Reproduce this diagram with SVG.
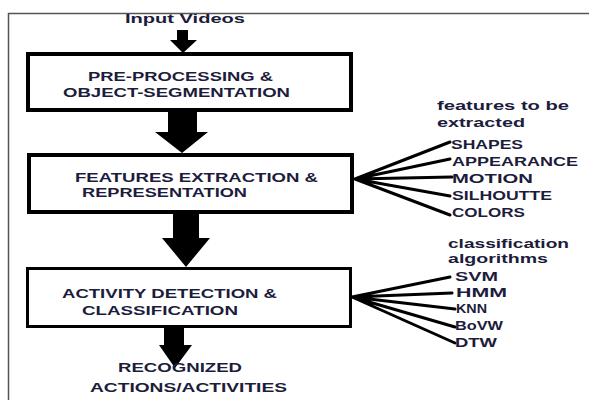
<svg xmlns="http://www.w3.org/2000/svg" width="589" height="400" viewBox="0 0 589 400">
<style>
.t{font-family:"Liberation Sans","Open Sans",sans-serif;font-weight:bold;font-size:13px;fill:#1c1c3c}
.s{font-size:12.5px}
.box{fill:#fff;stroke:#000;stroke-width:4}
.ln{stroke:#000;stroke-width:3;fill:none;stroke-linecap:round}
.arr{fill:#000}
</style>
<rect width="589" height="400" fill="#fff"/>
<path d="M8.5,400 V13.5 H589" fill="none" stroke="#555" stroke-width="1.5"/>
<g id="input">
<text class="t" x="125" y="23" textLength="120" lengthAdjust="spacingAndGlyphs">Input Videos</text>
</g>
<g id="connectors">
<polygon class="arr" points="177,30 188,30 188,40 197,40 183,53 170,40 177,40"/>
<polygon class="arr" points="168,111 197,111 197,132 208,132 182,153 155,132 168,132"/>
<polygon class="arr" points="173,214 199,214 199,238 210,238 186,267 162,238 173,238"/>
<polygon class="arr" points="164,328 184,328 184,345 192,345 175,368 159,345 164,345"/>
<path class="ln" d="M355,179 L450,142 M355,179 L450,159 M355,179 L452,177 M355,179 L450,196 M355,179 L450,215"/>
<path class="ln" d="M352,297 L450,277 M352,297 L452,293 M352,297 L455,309 M352,297 L455,327 M352,297 L455,343"/>
</g>
<g id="box1">
<rect class="box" x="28" y="54" width="323" height="56"/>
<text class="t" x="88" y="81" textLength="185" lengthAdjust="spacingAndGlyphs">PRE-PROCESSING &amp;</text>
<text class="t" x="63" y="97" textLength="227" lengthAdjust="spacingAndGlyphs">OBJECT-SEGMENTATION</text>
</g>
<g id="box2">
<rect class="box" x="29" y="155" width="323" height="57"/>
<text class="t" x="75" y="182" textLength="243" lengthAdjust="spacingAndGlyphs">FEATURES EXTRACTION &amp;</text>
<text class="t" x="82" y="197" textLength="165" lengthAdjust="spacingAndGlyphs">REPRESENTATION</text>
</g>
<g id="box3">
<rect class="box" x="27.5" y="268.5" width="323" height="58" style="stroke-width:3"/>
<text class="t" x="62" y="298" textLength="215" lengthAdjust="spacingAndGlyphs">ACTIVITY DETECTION &amp;</text>
<text class="t" x="82" y="315" textLength="156" lengthAdjust="spacingAndGlyphs">CLASSIFICATION</text>
</g>
<g id="output">
<text class="t" x="118" y="372" textLength="124" lengthAdjust="spacingAndGlyphs">RECOGNIZED</text>
<text class="t" x="90" y="392" textLength="197" lengthAdjust="spacingAndGlyphs">ACTIONS/ACTIVITIES</text>
</g>
<g id="features">
<text class="t" x="437" y="110" textLength="132" lengthAdjust="spacingAndGlyphs">features to be</text>
<text class="t" x="437" y="127" textLength="88" lengthAdjust="spacingAndGlyphs">extracted</text>
<text class="t" x="451" y="149" textLength="72" lengthAdjust="spacingAndGlyphs">SHAPES</text>
<text class="t" x="452" y="166" textLength="126" lengthAdjust="spacingAndGlyphs">APPEARANCE</text>
<text class="t" x="452" y="183" textLength="81" lengthAdjust="spacingAndGlyphs">MOTION</text>
<text class="t" x="452" y="200" textLength="100" lengthAdjust="spacingAndGlyphs">SILHOUTTE</text>
<text class="t" x="452" y="217" textLength="73" lengthAdjust="spacingAndGlyphs">COLORS</text>
</g>
<g id="classifiers">
<text class="t s" x="448" y="248" textLength="121" lengthAdjust="spacingAndGlyphs">classification</text>
<text class="t s" x="448" y="263" textLength="100" lengthAdjust="spacingAndGlyphs">algorithms</text>
<text class="t" x="455" y="281" textLength="43" lengthAdjust="spacingAndGlyphs">SVM</text>
<text class="t" x="456" y="297" textLength="51" lengthAdjust="spacingAndGlyphs">HMM</text>
<text class="t" x="456" y="313" textLength="31" lengthAdjust="spacingAndGlyphs">KNN</text>
<text class="t" x="455" y="330" textLength="48" lengthAdjust="spacingAndGlyphs">BoVW</text>
<text class="t" x="455" y="347" textLength="42" lengthAdjust="spacingAndGlyphs">DTW</text>
</g>
</svg>
